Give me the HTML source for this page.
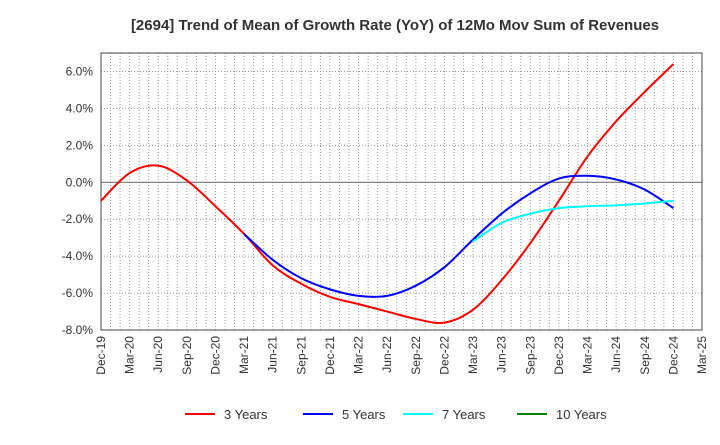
<!DOCTYPE html>
<html><head><meta charset="utf-8"><style>
body{margin:0;background:#fff;font-family:"Liberation Sans",sans-serif}
svg text{font-family:"Liberation Sans",sans-serif}
</style></head><body>
<svg id="chart" width="720" height="440" xmlns="http://www.w3.org/2000/svg">
<text x="395" y="30" text-anchor="middle" font-size="15" font-weight="bold" fill="#333">[2694]  Trend of Mean of Growth Rate (YoY) of 12Mo Mov Sum of Revenues</text>
<g id="grid"></g><g id="axes"></g><g id="series"></g><g id="legend"></g>
</svg>
<script>
const xLabels=["Dec-19","Mar-20","Jun-20","Sep-20","Dec-20","Mar-21","Jun-21","Sep-21","Dec-21","Mar-22","Jun-22","Sep-22","Dec-22","Mar-23","Jun-23","Sep-23","Dec-23","Mar-24","Jun-24","Sep-24","Dec-24","Mar-25"];
const yTicks=[6,4,2,0,-2,-4,-6,-8];
const s3=[-1.0,0.5,0.9,0.1,-1.3,-2.8,-4.5,-5.5,-6.2,-6.6,-7.0,-7.4,-7.6,-6.9,-5.3,-3.3,-1.0,1.4,3.3,4.9,6.4];
const s5=[null,null,null,null,null,-2.8,-4.2,-5.2,-5.8,-6.15,-6.15,-5.6,-4.6,-3.1,-1.7,-0.6,0.2,0.35,0.15,-0.4,-1.4];
const s7=[null,null,null,null,null,null,null,null,null,null,null,null,null,-3.2,-2.2,-1.7,-1.4,-1.3,-1.25,-1.15,-1.0];
const s10=[];
const L=101,R=702,T=53,B=330,yMin=-8,yMax=7;
const xq=i=>L+(R-L)*i/(xLabels.length-1);
const ys=v=>B-(v-yMin)/(yMax-yMin)*(B-T);
const NS="http://www.w3.org/2000/svg";
function mk(t,a,p){const e=document.createElementNS(NS,t);for(const k in a)e.setAttribute(k,a[k]);p.appendChild(e);return e;}
const grid=document.getElementById('grid'),axes=document.getElementById('axes'),ser=document.getElementById('series'),leg=document.getElementById('legend');
const nm=(xLabels.length-1)*3;
for(let m=1;m<nm;m++){const x=L+(R-L)*m/nm;const g=mk('line',{x1:x,x2:x,y1:T,y2:B,stroke:'#999','stroke-dasharray':'1,2','stroke-width':1},grid);

}
yTicks.forEach(v=>{const y=ys(v);
const g=mk('line',{x1:L,x2:R,y1:y,y2:y,stroke:v===0?'#666':'#999','stroke-dasharray':v===0?'':'1,2','stroke-width':1},grid);


const t=mk('text',{x:L-8,y:y+4,'text-anchor':'end','font-size':12,fill:'#333'},axes);t.textContent=v.toFixed(1)+'%';

});
const fr=mk('rect',{x:L,y:T,width:R-L,height:B-T,fill:'none',stroke:'#444','stroke-width':1},axes);


xLabels.forEach((l,i)=>{const x=xq(i);const t=mk('text',{x:x+4,y:B+6,'text-anchor':'end','font-size':12,fill:'#333',transform:`rotate(-90 ${x+4} ${B+6})`},axes);t.textContent=l;

});
function path(arr){const p=[];arr.forEach((v,i)=>{if(v!=null)p.push([xq(i),ys(v)]);});if(p.length<2)return'';
let d=`M${p[0][0]},${p[0][1]}`;for(let i=0;i<p.length-1;i++){const p0=p[Math.max(0,i-1)],p1=p[i],p2=p[i+1],p3=p[Math.min(p.length-1,i+2)];
d+=` C${p1[0]+(p2[0]-p0[0])/6},${p1[1]+(p2[1]-p0[1])/6} ${p2[0]-(p3[0]-p1[0])/6},${p2[1]-(p3[1]-p1[1])/6} ${p2[0]},${p2[1]}`;}return d;}
const series=[[s3,'#ff0000','3 Years',185],[s5,'#0000ff','5 Years',303],[s7,'#00ffff','7 Years',403],[s10,'#008000','10 Years',517]];
series.forEach(([a,c,n,lx])=>{const d=path(a);if(d){const e=mk('path',{d,fill:'none',stroke:c,'stroke-width':2},ser);

}
const g=mk('g',{},leg);


mk('line',{x1:lx,x2:lx+30,y1:414,y2:414,stroke:c,'stroke-width':2},g);
const t=mk('text',{x:lx+39,y:419,'font-size':13,fill:'#333'},g);t.textContent=n;});
</script>
</body></html>
